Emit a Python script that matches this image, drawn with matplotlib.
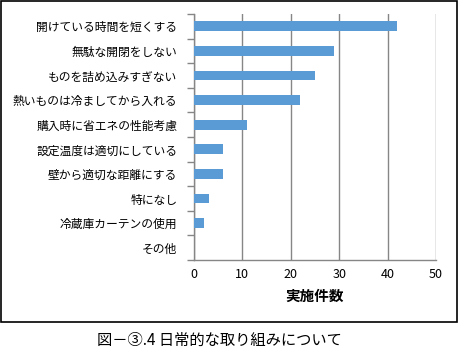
import matplotlib
matplotlib.use("Agg")
import matplotlib.pyplot as plt
from matplotlib.patches import Rectangle
import numpy as np

plt.rcParams['font.family'] = ['Noto Sans CJK JP', 'DejaVu Sans']

categories = ["開けている時間を短くする", "無駄な開閉をしない", "ものを詰め込みすぎない",
              "熱いものは冷ましてから入れる", "購入時に省エネの性能考慮", "設定温度は適切にしている",
              "壁から適切な距離にする", "特になし", "冷蔵庫カーテンの使用", "その他"]
values = [42, 29, 25, 22, 11, 6, 6, 3, 2, 0]
xticks = [0, 10, 20, 30, 40, 50]

fig = plt.figure(figsize=(4.59, 3.58), dpi=100)
fig.patch.set_facecolor('white')
fig.add_artist(Rectangle((0.002, 0.1006), 0.994, 0.896, transform=fig.transFigure,
                         fill=False, edgecolor='black', linewidth=1.2))

ax = fig.add_axes([0.4227, 0.2737, 0.5272, 0.6873])
n = len(categories)
pos = np.arange(n)
ax.barh(pos, values, height=0.4, color='#5B9BD5', zorder=3)
ax.set_ylim(n - 0.5, -0.5)
ax.set_xlim(0, 50)
ax.set_xticks(xticks)
ax.set_xticklabels([str(t) for t in xticks], fontsize=9)
ax.set_yticks(pos)
ax.set_yticklabels(categories, fontsize=8.5)
ax.tick_params(axis='y', length=0, pad=12)
ax.set_yticks(np.arange(n + 1) - 0.5, minor=True)
ax.tick_params(axis='y', which='minor', length=5, color='#868686', width=1)
ax.tick_params(axis='x', length=0, pad=6)
ax.grid(axis='x', color='#868686', linewidth=1, zorder=0)
for s in ['top', 'right']:
    ax.spines[s].set_visible(False)
for s in ['left', 'bottom']:
    ax.spines[s].set_color('#868686')
    ax.spines[s].set_linewidth(1)
ax.set_xlabel("実施件数", fontsize=10.5, fontweight='bold', labelpad=5)

fig.text(219 / 459, 1 - 340 / 358, "図－③.4 日常的な取り組みについて", ha='center', va='center', fontsize=11)

fig.savefig("out.png", dpi=100)
